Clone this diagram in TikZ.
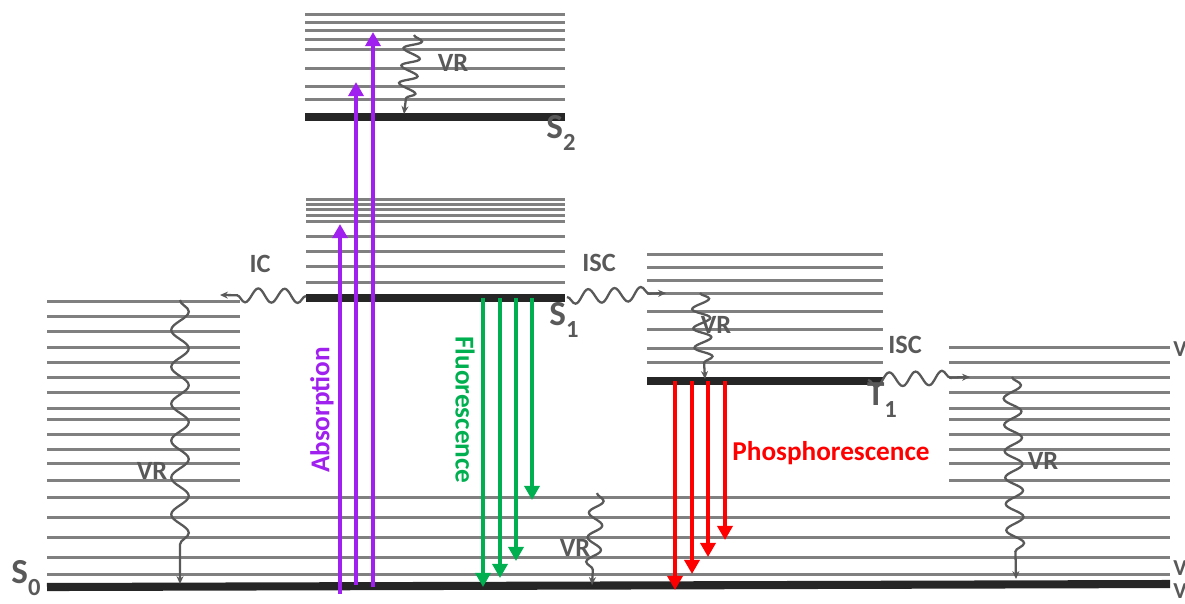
\documentclass[tikz,border=0pt]{standalone}
\usepackage{fontspec}
\setmainfont{Carlito}
\usetikzlibrary{arrows.meta,decorations.pathmorphing}

\definecolor{levgray}{HTML}{808080}
\definecolor{txtgray}{HTML}{595959}
\definecolor{darkline}{HTML}{262626}
\definecolor{absviolet}{HTML}{A020F0}
\definecolor{fluogreen}{HTML}{00B050}
\definecolor{phosred}{HTML}{FF0000}

\newcommand{\lvsub}[1]{\raisebox{-0.35em}{\fontsize{14}{14}\selectfont #1}}

\tikzset{
  level/.style={levgray, line width=1.7pt},
  ground/.style={darkline, line width=4.6pt},
  lbl/.style={text=txtgray, font=\fontsize{15}{16}\selectfont\bfseries, inner sep=0pt},
  statelbl/.style={text=txtgray, font=\fontsize{20}{22}\selectfont\bfseries, inner sep=0pt},
  radiative/.style={line width=2.8pt, -{Triangle[length=8pt,width=8.5pt]}},
  wavy/.style 2 args={txtgray, line width=1.3pt, -{Stealth[length=4.5pt,width=4pt]},
    decorate, decoration={snake, amplitude=#1, segment length=#2, post length=6pt}},
}

\begin{document}
\begin{tikzpicture}[x=0.02cm, y=-0.02cm]
  \useasboundingbox (0,0) rectangle (1185,603);

  % S2 manifold
  \foreach \y in {14,22,30,39,49,68,86,99}
    \draw[level] (305,\y) -- (565,\y);
  \draw[ground] (305,117) -- (565,117);
  \node[statelbl] (s2) at (561,133) {S\lvsub{2}};

  % S1 manifold
  \foreach \y in {199,204,209,215,221,236,251,266,282}
    \draw[level] (306,\y) -- (565,\y);
  \draw[ground] (306,298) -- (565,298);
  \node[statelbl] (s1) at (564,320) {S\lvsub{1}};

  % T1 manifold
  \foreach \y in {254,267,280,293,311,329,348,362}
    \draw[level] (647,\y) -- (883,\y);
  \draw[ground] (647,381) -- (883,381);
  \node[statelbl] (t1) at (882,400) {T\lvsub{1}};

  % S0 manifold
  \foreach \y in {301,316,331}
    \draw[level] (47,\y) -- (240,\y);
  \foreach \y in {347,362,377,392,408,419,434,449,463,480} {
    \draw[level] (47,\y) -- (240,\y);
    \draw[level] (949,\y) -- (1170,\y);
  }
  \foreach \y in {497,517,537,557,574}
    \draw[level] (47,\y) -- (1170,\y);
  \draw[ground] (47,587) -- (1170,584);
  \node[statelbl] (s0) at (26,578) {S\lvsub{0}};
  \node[lbl, font=\fontsize{13}{14}\selectfont\bfseries] (v1) at (1180,349) {V};
  \node[lbl, font=\fontsize{13}{14}\selectfont\bfseries] (v2) at (1180,568) {V};
  \node[lbl, font=\fontsize{13}{14}\selectfont\bfseries] (v3) at (1180,591) {V};

  % absorption
  \coordinate (a1b) at (340,594); \coordinate (a1t) at (340,224);
  \coordinate (a2b) at (356,585); \coordinate (a2t) at (356,82);
  \coordinate (a3b) at (373,587); \coordinate (a3t) at (373,32);
  \draw[radiative, absviolet] (a1b) -- (a1t);
  \draw[radiative, absviolet] (a2b) -- (a2t);
  \draw[radiative, absviolet] (a3b) -- (a3t);
  \node[rotate=90, text=absviolet, font=\fontsize{15.5}{17}\selectfont\bfseries] (abs) at (322,410) {Absorption};

  % fluorescence
  \foreach \x/\y [count=\i] in {483/587,500/578,516/561,532/500} {
    \coordinate (f\i s) at (\x,298);
    \coordinate (f\i e) at (\x,\y);
    \draw[radiative, fluogreen] (f\i s) -- (f\i e);
  }
  \node[rotate=-90, text=fluogreen, font=\fontsize{15.5}{17}\selectfont\bfseries] (fluo) at (465,410) {Fluorescence};

  % phosphorescence
  \foreach \x/\y [count=\i] in {675/590,692/574,708/557,725/540} {
    \coordinate (p\i s) at (\x,381);
    \coordinate (p\i e) at (\x,\y);
    \draw[radiative, phosred] (p\i s) -- (p\i e);
  }
  \node[text=phosred, font=\fontsize{15.5}{17}\selectfont\bfseries] (phos) at (831,453) {Phosphorescence};

  % non-radiative steps
  \coordinate (vrs2a) at (414,35);   \coordinate (vrs2b) at (404,114);
  \coordinate (ica) at (306,296);    \coordinate (icb) at (220,295);
  \coordinate (isc1a) at (567,297);  \coordinate (isc1b) at (666,293);
  \coordinate (vrt1a) at (700,293);  \coordinate (vrt1b) at (705,379);
  \coordinate (isc2a) at (868,380);  \coordinate (isc2b) at (970,377);
  \coordinate (vrra) at (1012,377);  \coordinate (vrrb) at (1016,579);
  \coordinate (vrla) at (180,300);   \coordinate (vrlb) at (180,584);
  \coordinate (vrma) at (597,493);   \coordinate (vrmb) at (592,585);
  \draw[wavy={5pt}{10pt}] (vrs2a) -- (vrs2b);
  \draw[wavy={4pt}{15pt}] (ica) -- (icb);
  \draw[wavy={-4pt}{15pt}] (isc1a) -- (isc1b);
  \draw[wavy={5pt}{11pt}] (vrt1a) -- (vrt1b);
  \draw[wavy={-4pt}{15pt}] (isc2a) -- (isc2b);
  \draw[wavy={5pt}{15pt}, decoration={post length=10pt}] (vrra) -- (vrrb);
  \draw[wavy={5pt}{21pt}, decoration={post length=14pt}] (vrla) -- (vrlb);
  \draw[wavy={4pt}{14pt}] (vrma) -- (vrmb);
  \node[lbl] (vrs2) at (453,63) {VR};
  \node[lbl] (ic) at (260,264) {IC};
  \node[lbl] (isc1) at (599,263) {ISC};
  \node[lbl] (vrt1) at (716,325) {VR};
  \node[lbl] (isc2) at (905,345) {ISC};
  \node[lbl] (vrr) at (1043,461) {VR};
  \node[lbl] (vrl) at (152,471) {VR};
  \node[lbl] (vrm) at (575,548) {VR};
\end{tikzpicture}
\end{document}
